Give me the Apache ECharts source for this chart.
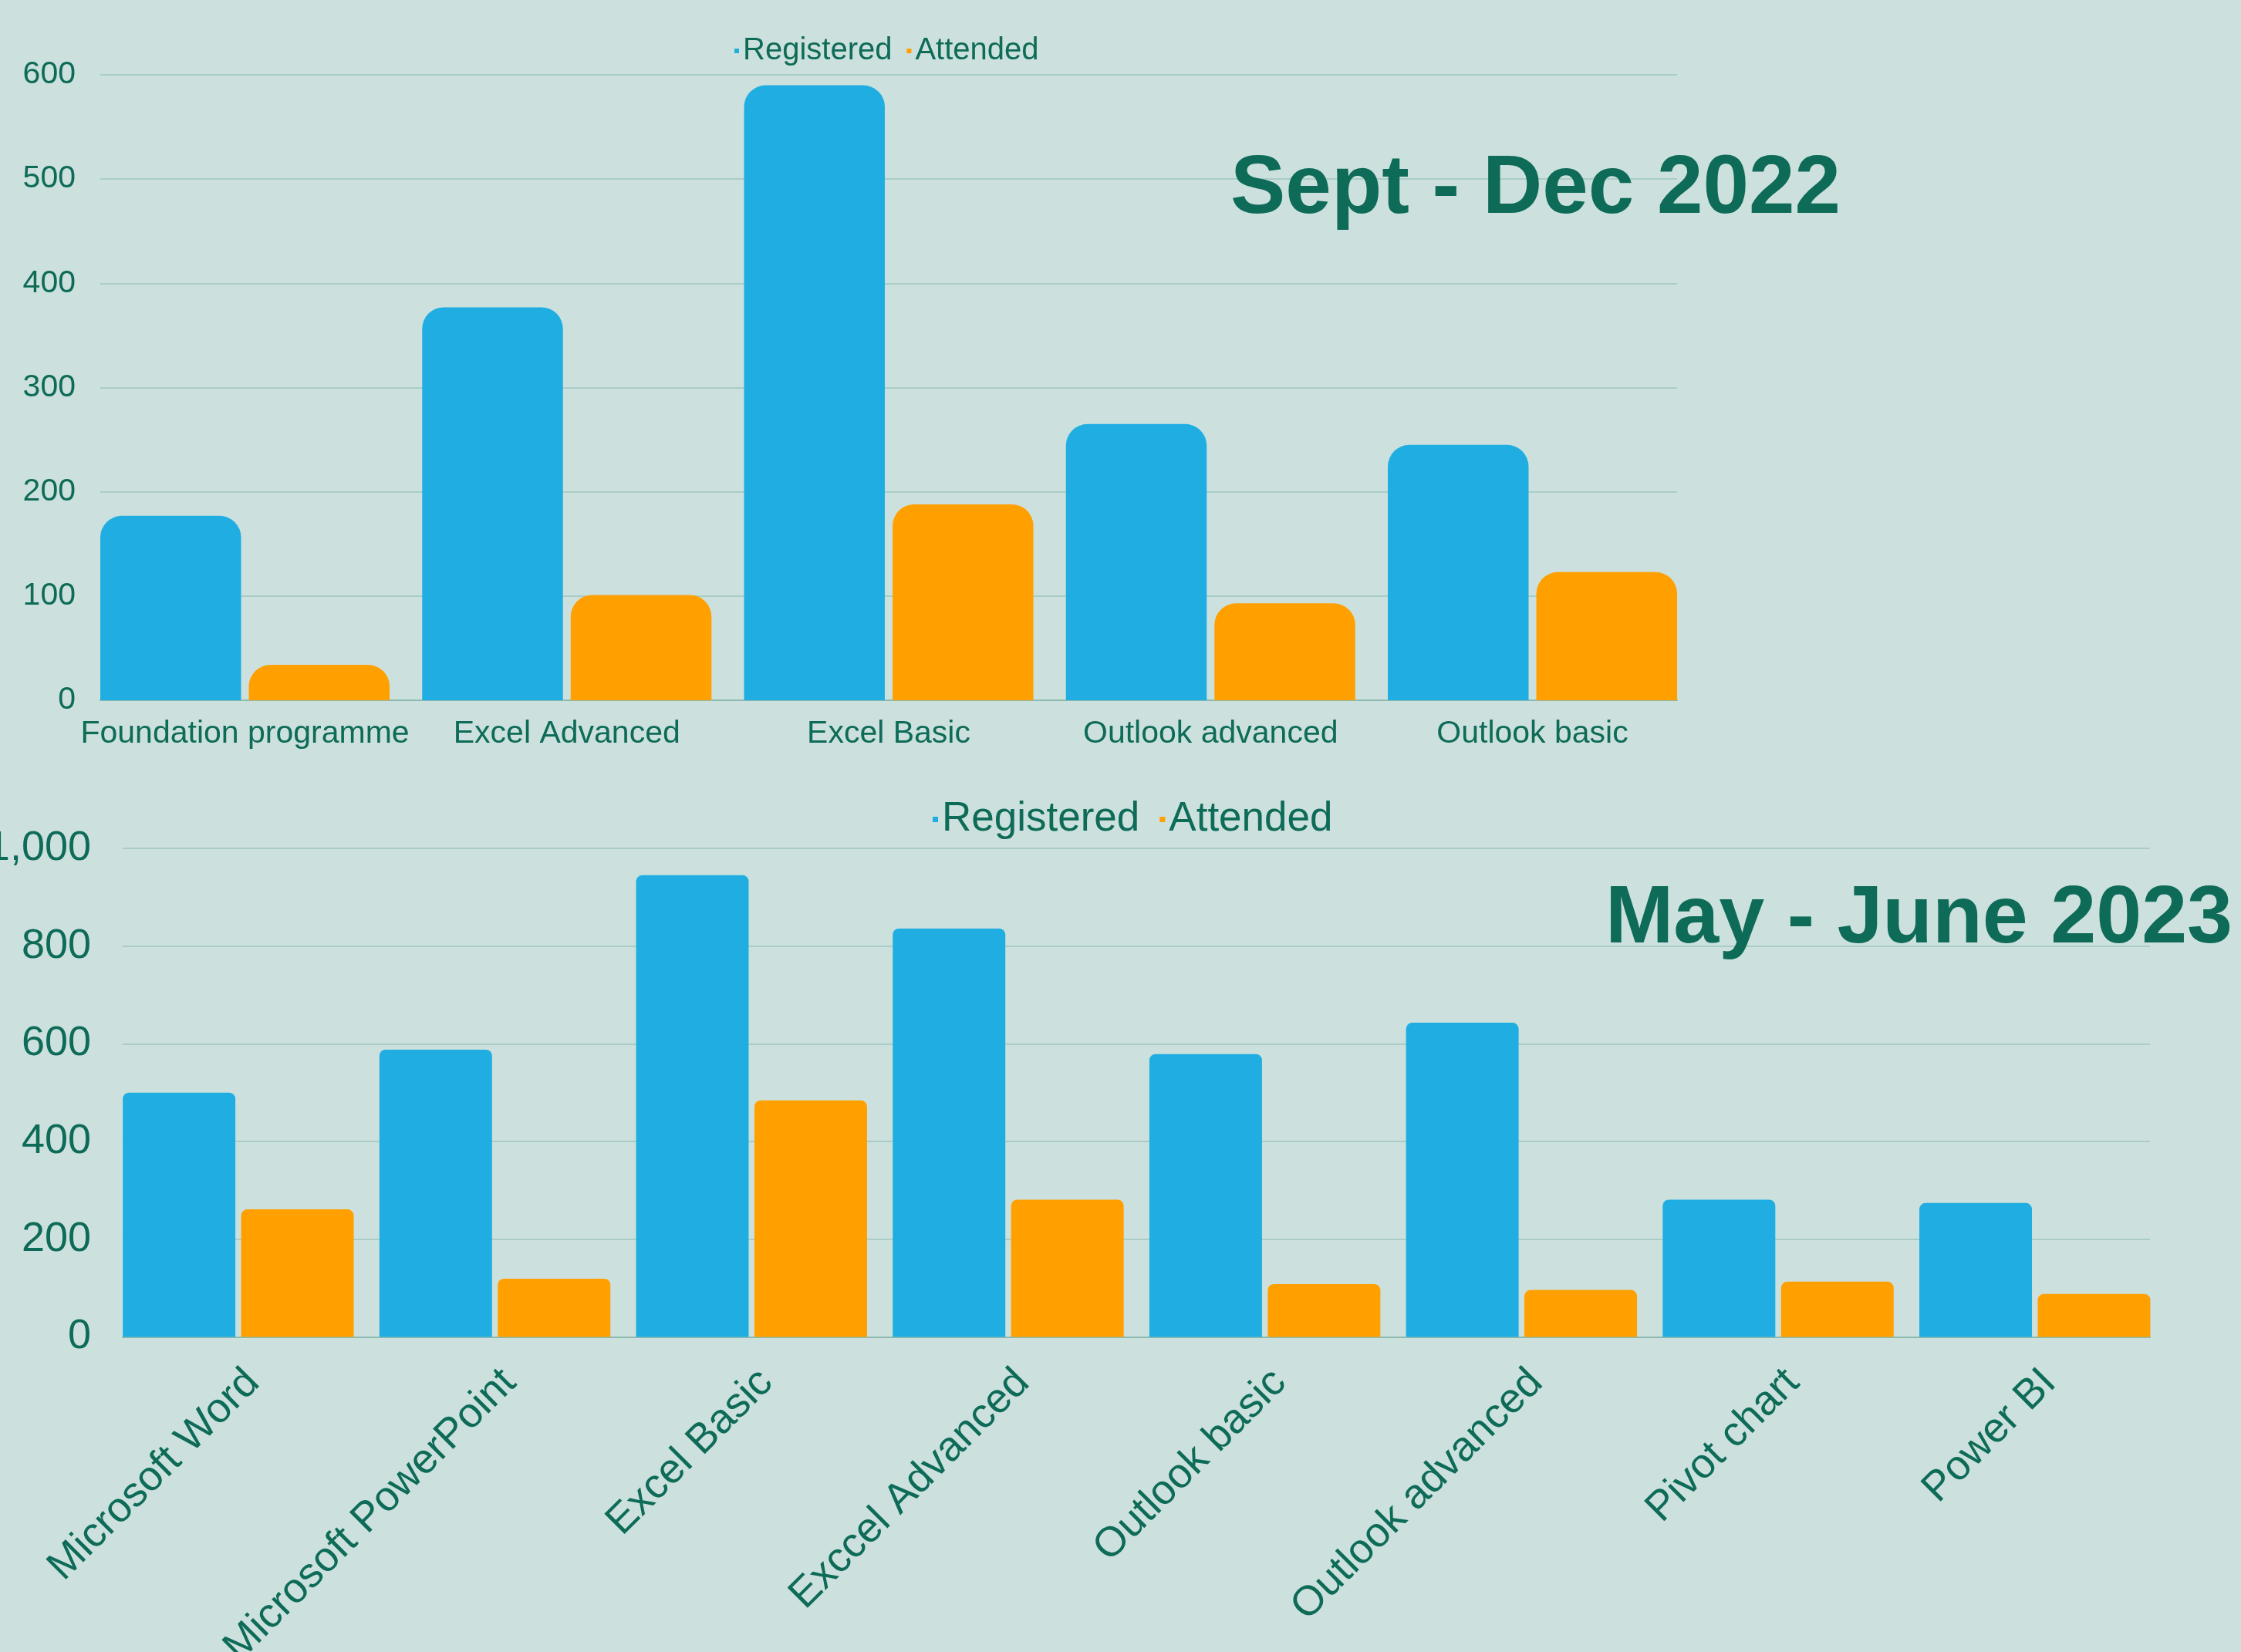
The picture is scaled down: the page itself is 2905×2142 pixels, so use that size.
<!DOCTYPE html>
<html>
<head>
<meta charset="utf-8">
<script src="https://cdn.jsdelivr.net/npm/echarts@6/dist/echarts.min.js"></script>
<style>
html,body{margin:0;padding:0;background:#cce1de;}
#main{width:2905px;height:2142px;}
</style>
</head>
<body>
<div id="main"></div>
<script>
// ---- data ----
const seriesNames = ['Registered', 'Attended'];

const topTitle = 'Sept - Dec 2022';
const topCategories = ['Foundation programme', 'Excel Advanced', 'Excel Basic', 'Outlook advanced', 'Outlook basic'];
const topRegistered = [177, 377, 590, 265, 245];
const topAttended = [34, 101, 188, 93, 123];
const topYMax = 600;
const topYInterval = 100;

const bottomTitle = 'May - June 2023';
const bottomCategories = ['Microsoft Word', 'Microsoft PowerPoint', 'Excel Basic', 'Exccel Advanced', 'Outlook basic', 'Outlook advanced', 'Pivot chart', 'Power BI'];
const bottomRegistered = [500, 588, 945, 836, 579, 643, 281, 274];
const bottomAttended = [261, 119, 484, 281, 108, 96, 113, 88];
const bottomYMax = 1000;
const bottomYInterval = 200;

// ---- style ----
const FONT = '"Liberation Sans", Arial, Helvetica, sans-serif';
const TXT = '#0e6b58';
const BLUE = '#20aee2';
const ORANGE = '#ffa000';
const GRIDC = '#a9cdc6';
const AXISC = '#8dbaaf';

const chart = echarts.init(document.getElementById('main'));

function valueXAxis(gi) {
  return {
    type: 'value', gridIndex: gi, min: 0, max: 1,
    axisLine: { show: true, onZero: false, lineStyle: { color: AXISC, width: 2 } },
    axisTick: { show: false }, axisLabel: { show: false }, splitLine: { show: false }
  };
}
function grid(left, width, top, height) {
  return { left: left, width: width, top: top, height: height,
    containLabel: false, outerBoundsMode: 'none' };
}

const option = {
  backgroundColor: '#cce1de',
  animation: false,
  title: [
    { text: topTitle, left: 1595, top: 193, padding: 0,
      textStyle: { fontFamily: FONT, fontWeight: 'bold', fontSize: 107, color: TXT } },
    { text: bottomTitle, left: 2081, top: 1140, padding: 0,
      textStyle: { fontFamily: FONT, fontWeight: 'bold', fontSize: 106, color: TXT } }
  ],
  legend: [
    { data: seriesNames, left: 952, top: 46, padding: 0, itemWidth: 6, itemHeight: 6, itemGap: 19,
      icon: 'rect', textStyle: { fontFamily: FONT, fontSize: 40, color: TXT } },
    { data: seriesNames, left: 1209, top: 1036, padding: 0, itemWidth: 7, itemHeight: 7, itemGap: 26,
      icon: 'rect', textStyle: { fontFamily: FONT, fontSize: 53, color: TXT } }
  ],
  grid: [
    grid(108.9, 2086.25, 97, 811),
    grid(130, 2044, 97, 811),
    grid(142.5, 2661.6, 1100, 633.4),
    grid(159, 2628, 1100, 633.4)
  ],
  xAxis: [
    { type: 'category', gridIndex: 0, data: topCategories,
      axisLine: { show: false }, axisTick: { show: false },
      axisLabel: { interval: 0, margin: 23, fontFamily: FONT, fontSize: 41, color: TXT } },
    valueXAxis(1),
    { type: 'category', gridIndex: 2, data: bottomCategories,
      axisLine: { show: false }, axisTick: { show: false },
      axisLabel: { interval: 0, rotate: 45, margin: 32, verticalAlign: 'top',
        fontFamily: FONT, fontSize: 54, color: TXT } },
    valueXAxis(3)
  ],
  yAxis: [
    { type: 'value', gridIndex: 0, min: 0, max: topYMax, show: false },
    { type: 'value', gridIndex: 1, min: 0, max: topYMax, interval: topYInterval,
      axisLine: { show: false }, axisTick: { show: false },
      axisLabel: { margin: 32, fontFamily: FONT, fontSize: 41, color: TXT },
      splitLine: { lineStyle: { color: GRIDC, width: 2 } } },
    { type: 'value', gridIndex: 2, min: 0, max: bottomYMax, show: false },
    { type: 'value', gridIndex: 3, min: 0, max: bottomYMax, interval: bottomYInterval,
      axisLine: { show: false }, axisTick: { show: false },
      axisLabel: { margin: 41, fontFamily: FONT, fontSize: 54, color: TXT,
        formatter: v => v.toLocaleString('en-US') },
      splitLine: { lineStyle: { color: GRIDC, width: 2 } } }
  ],
  series: [
    { name: seriesNames[0], type: 'bar', xAxisIndex: 0, yAxisIndex: 0, data: topRegistered,
      barWidth: 182.5, barGap: '5.5%', itemStyle: { color: BLUE, borderRadius: [28, 28, 0, 0] } },
    { name: seriesNames[1], type: 'bar', xAxisIndex: 0, yAxisIndex: 0, data: topAttended,
      barWidth: 182.5, barGap: '5.5%', itemStyle: { color: ORANGE, borderRadius: [28, 28, 0, 0] } },
    { name: seriesNames[0], type: 'bar', xAxisIndex: 2, yAxisIndex: 2, data: bottomRegistered,
      barWidth: 146, barGap: '5.1%', itemStyle: { color: BLUE, borderRadius: [8, 8, 0, 0] } },
    { name: seriesNames[1], type: 'bar', xAxisIndex: 2, yAxisIndex: 2, data: bottomAttended,
      barWidth: 146, barGap: '5.1%', itemStyle: { color: ORANGE, borderRadius: [8, 8, 0, 0] } }
  ]
};
chart.setOption(option);
</script>
</body>
</html>
